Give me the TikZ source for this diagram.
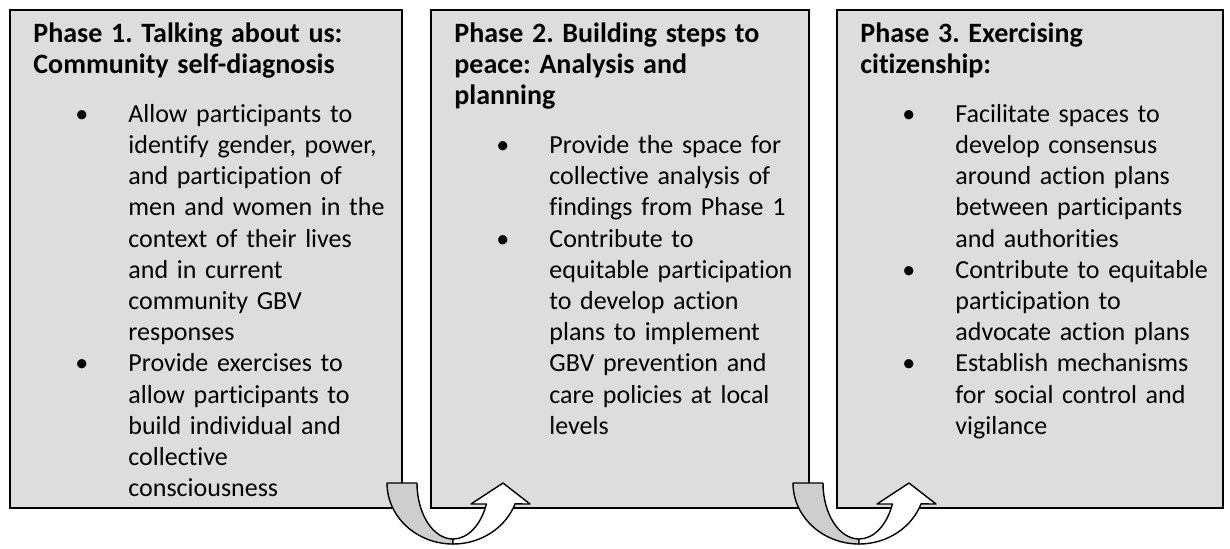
\documentclass[tikz,border=0pt]{standalone}
\usepackage{fontspec}
\setmainfont{Carlito}[Ligatures=NoCommon]
\usepackage{xcolor}
\usetikzlibrary{positioning}
\definecolor{boxgray}{RGB}{221,221,221}
\definecolor{arrowgray}{RGB}{206,206,206}
\frenchspacing
\newcommand{\bodyfont}{\fontsize{13}{15.6}\selectfont}
\newcommand{\titlefont}{\fontsize{14}{15.6}\selectfont\bfseries}
\newcommand{\phasetitle}[1]{\noindent{\titlefont #1\par}\vspace{8.9pt}}
\newcommand{\phaseitem}{\par\noindent\hangindent=47.5pt\hangafter=1\makebox[47.5pt][l]{\hspace{21pt}\textbullet}}

\begin{document}
\begin{tikzpicture}[x=0.5pt,y=0.5pt,
  phase/.style={draw=black,line width=0.9pt,fill=boxgray,anchor=north west,minimum height=249pt,inner sep=0pt,outer sep=0pt},
  phasetext/.style={anchor=base west,text width=220pt,inner sep=0pt,font=\bodyfont},
  uback/.style={draw=black,line width=0.7pt,fill=arrowgray,line join=round},
  ufront/.style={draw=black,line width=0.7pt,fill=white,line join=round}]
\useasboundingbox (0,0) rectangle (1230,-548);

\node[phase,minimum width=196pt] (P1) at (10,-10) {};
\node[phase,minimum width=189pt] (P2) at (431,-10) {};
\node[phase,minimum width=193pt] (P3) at (837,-10) {};

\node[phasetext] (T1) at ([shift={(23,-32)}]P1.north west) {%
\phasetitle{Phase 1. Talking about us:\newline Community self-diagnosis}%
\phaseitem Allow participants to\newline identify gender, power,\newline and participation of\newline men and women in the\newline context of their lives\newline and in current\newline community GBV\newline responses\par
\phaseitem Provide exercises to\newline allow participants to\newline build individual and\newline collective\newline consciousness\par};

\node[phasetext] (T2) at ([shift={(23,-32)}]P2.north west) {%
\phasetitle{Phase 2. Building steps to\newline peace: Analysis and\newline planning}%
\phaseitem Provide the space for\newline collective analysis of\newline findings from Phase 1\par
\phaseitem Contribute to\newline equitable participation\newline to develop action\newline plans to implement\newline GBV prevention and\newline care policies at local\newline levels\par};

\node[phasetext] (T3) at ([shift={(23,-32)}]P3.north west) {%
\phasetitle{Phase 3. Exercising\newline citizenship:}%
\phaseitem Facilitate spaces to\newline develop consensus\newline around action plans\newline between participants\newline and authorities\par
\phaseitem Contribute to equitable\newline participation to\newline advocate action plans\par
\phaseitem Establish mechanisms\newline for social control and\newline vigilance\par};

\coordinate (U1) at ([shift={(-15,25)}]P1.south east);
\coordinate (U2) at ([shift={(-16,25)}]P2.south east);

\begin{scope}[shift={(U1)}]
\draw[uback] (0,0) -- (30,0) arc[start angle=180,end angle=270,x radius=36,y radius=56] -- (66,-61) arc[start angle=270,end angle=180,x radius=66,y radius=61] -- cycle;
\draw[ufront] (66,-61) arc[start angle=270,end angle=340,x radius=66,y radius=61] -- (143,-21) -- (116,0) -- (84,-21) -- (99.4,-21) arc[start angle=338,end angle=270,x radius=36,y radius=56] -- cycle;
\end{scope}

\begin{scope}[shift={(U2)}]
\draw[uback] (0,0) -- (30,0) arc[start angle=180,end angle=270,x radius=36,y radius=56] -- (66,-61) arc[start angle=270,end angle=180,x radius=66,y radius=61] -- cycle;
\draw[ufront] (66,-61) arc[start angle=270,end angle=340,x radius=66,y radius=61] -- (143,-21) -- (116,0) -- (84,-21) -- (99.4,-21) arc[start angle=338,end angle=270,x radius=36,y radius=56] -- cycle;
\end{scope}
\end{tikzpicture}
\end{document}
